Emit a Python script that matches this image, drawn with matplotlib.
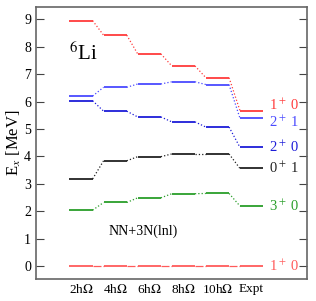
import matplotlib
matplotlib.use('Agg')
import matplotlib.pyplot as plt

plt.rcParams['font.family'] = ['Liberation Serif', 'DejaVu Serif']
plt.rcParams['mathtext.fontset'] = 'stix'

# model spaces + experiment
columns = ['2h$\\Omega$', '4h$\\Omega$', '6h$\\Omega$', '8h$\\Omega$', '10h$\\Omega$', 'Expt']

# excitation energies [MeV], one list per state
e_1p0_b = [8.95, 8.42, 7.74, 7.30, 6.87, 5.67]
e_2p1 = [6.20, 6.52, 6.64, 6.72, 6.62, 5.39]
e_2p0 = [6.03, 5.65, 5.44, 5.26, 5.07, 4.33]
e_0p1 = [3.18, 3.84, 3.99, 4.09, 4.09, 3.56]
e_3p0 = [2.04, 2.32, 2.49, 2.64, 2.65, 2.19]
e_1p0_a = [0.0, 0.0, 0.0, 0.0, 0.0, 0.0]

# (energies, colour, label, connector style, label shift)
states = [
    (e_1p0_b, '#ff3c3c', '1$^+$ 0', ':', 0.2),
    (e_2p1, '#4a4aff', '2$^+$ 1', ':', -0.15),
    (e_2p0, '#1c1cd8', '2$^+$ 0', ':', 0.0),
    (e_0p1, '#222222', '0$^+$ 1', ':', 0.0),
    (e_3p0, '#2a9e2a', '3$^+$ 0', ':', 0.0),
    (e_1p0_a, '#ff5a5a', '1$^+$ 0', '-.', 0.0),
]

xpos = list(range(1, len(columns) + 1))
half = 0.34

fig = plt.figure(figsize=(3.16, 3.01), dpi=100)
ax = fig.add_axes([0.114, 0.073, 0.858, 0.904])

for vals, col, lab, conn, dy in states:
    for x, e in zip(xpos, vals):
        ax.plot([x - half, x + half], [e, e], color=col, lw=1.3, solid_capstyle='butt')
    for i in range(len(vals) - 1):
        ax.plot([xpos[i] + half, xpos[i + 1] - half], [vals[i], vals[i + 1]],
                color=col, lw=0.9, ls=conn)
    ax.text(xpos[-1] + half + 0.18, vals[-1] + dy, lab, color=col, fontsize=10.5,
            ha='left', va='center')

ax.text(0.65, 7.75, '$^6$Li', fontsize=15, ha='left', va='center')
ax.text(1.8, 1.28, 'NN+3N(lnl)', fontsize=10, ha='left', va='center')

ax.set_xlim(-0.32, 7.63)
ax.set_ylim(-0.47, 9.45)
ax.set_xticks(xpos)
ax.set_xticklabels(columns, fontsize=9.5)
ax.tick_params(axis='x', length=0, pad=3)
ax.set_yticks(range(0, 10))
ax.tick_params(axis='y', direction='in', length=6, right=True, labelsize=10, color='#444444')
ax.set_ylabel('E$_x$ [MeV]', fontsize=12, labelpad=1)
for s in ax.spines.values():
    s.set_color('#666666')
    s.set_linewidth(1.2)

fig.savefig('out.png', dpi=100)
